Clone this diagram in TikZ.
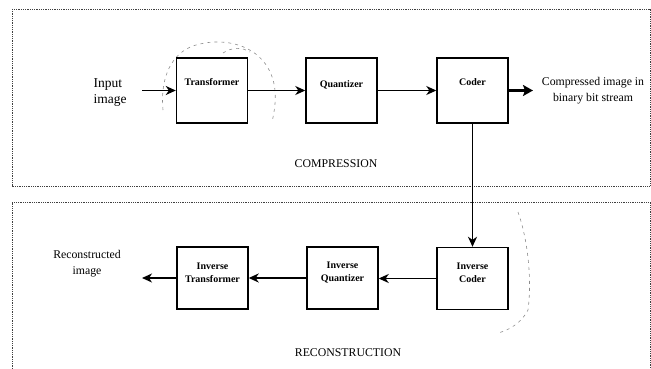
\documentclass[tikz,border=0pt]{standalone}
\usepackage{fontspec}
\setmainfont{Liberation Serif}
\usetikzlibrary{arrows.meta}
\begin{document}
\begin{tikzpicture}[x=1pt,y=-1pt,
  box/.style={draw,line width=1.4pt,minimum width=71pt,minimum height=65pt,inner sep=0pt},
  ibox/.style={box,minimum height=62pt},
  lbl/.style={font=\fontsize{10}{13}\selectfont\bfseries,align=center,inner sep=0pt},
  txt/.style={font=\fontsize{11.8}{16}\selectfont,align=center,inner sep=0pt},
  frame/.style={densely dotted,line width=0.8pt,black!75},
  conn/.style={line width=1.5pt,-{Stealth[length=10pt,width=9pt,inset=3pt]}},
  thick conn/.style={line width=2.6pt,-{Stealth[length=10pt,width=11pt,inset=2pt]}},
  scribble/.style={line width=0.6pt,black!45,dash pattern=on 3pt off 4pt}]
\useasboundingbox (0,0) rectangle (651,369);
% frames
\draw[frame] (12,9) rectangle (650,186);
\draw[frame] (12,369) -- (12,202) -- (650,202) -- (650,369);
% scan scribbles
\draw[scribble] (163,110) .. controls (160,80) and (170,50) .. (200,44)
  .. controls (225,38) and (255,45) .. (268,68) .. controls (278,85) and (276,105) .. (272,122);
\draw[scribble] (223,53) .. controls (232,47) and (242,47) .. (250,52);
\draw[scribble] (518,212) .. controls (528,240) and (532,280) .. (528,310)
  .. controls (522,322) and (510,330) .. (498,333);
% compression boxes
\node[box] (tr) at (212,90.5) {};
\node[lbl] (trl) at (212,82) {Transformer};
\node[box] (qu) at (341.5,90.5) {};
\node[lbl] (qul) at (341.5,85) {Quantizer};
\node[box] (co) at (472.5,90.5) {};
\node[lbl] (col) at (472.5,82) {Coder};
% reconstruction boxes
\node[ibox] (it) at (212.5,278) {};
\node[lbl] (itl) at (212.5,272.5) {Inverse\\Transformer};
\node[ibox] (iq) at (342.5,278) {};
\node[lbl] (iql) at (342.5,272.5) {Inverse\\Quantizer};
\node[ibox] (ic) at (472.5,278.5) {};
\node[lbl] (icl) at (472.5,273) {Inverse\\Coder};
% texts
\node[txt,align=left,font=\fontsize{13.5}{16}\selectfont] (in) at (110,93) {Input\\image};
\node[txt] (out) at (593,91) {Compressed image in\\binary bit stream};
\node[txt] (rec) at (87,264) {Reconstructed\\image};
\node[txt] (cl) at (336,164) {COMPRESSION};
\node[txt] (rl) at (348,353) {RECONSTRUCTION};
% connector ends
\coordinate (inp) at (142,90.5);
\coordinate (outp) at (533,90.5);
\coordinate (recp) at (142,278);
% connectors
\draw[conn] (inp) -- (tr.west);
\draw[conn] (tr.east) -- (qu.west);
\draw[conn] (qu.east) -- (co.west);
\draw[thick conn] (co.east) -- (outp);
\draw[conn] (co.south) -- (ic.north);
\draw[conn] (ic.west) -- (ic.west -| iq.east);
\draw[conn] (iq.west) -- (iq.west -| it.east);
\draw[conn] (it.west) -- (recp);
\end{tikzpicture}
\end{document}
